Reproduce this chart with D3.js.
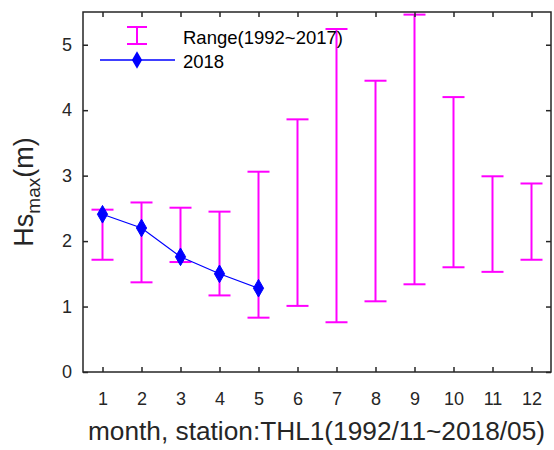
<!DOCTYPE html>
<html><head><meta charset="utf-8">
<script src="https://cdn.jsdelivr.net/npm/d3@7"></script>
<style>body{margin:0;background:#fff;} text{font-family:"Liberation Sans",Arial,sans-serif;}</style>
</head><body>
<svg id="c" width="554" height="450"></svg>
<script>
const months = [1,2,3,4,5,6,7,8,9,10,11,12];
const rangeMax = [2.48,2.59,2.51,2.45,3.06,3.86,5.24,4.45,5.46,4.20,2.99,2.88];
const rangeMin = [1.715,1.37,1.68,1.17,0.83,1.01,0.76,1.08,1.34,1.60,1.53,1.715];
const months2018 = [1,2,3,4,5];
const values2018 = [2.41,2.20,1.76,1.50,1.28];
const yTicks = [0,1,2,3,4,5];
const legendLabels = ["Range(1992~2017)","2018"];

const svg = d3.select("#c");
const L=83,R=551,T=12,B=372;
const x = d3.scaleLinear().domain([0.5,12.5]).range([L,R]);
const y = d3.scaleLinear().domain([0,5.5]).range([B,T]);
const axisCol="#262626";
const mag="#ff00ff", blue="#0000ff";

const cap=11;
const g=svg.append("g");
months.forEach((m,i)=>{
  g.append("line").attr("x1",x(m)).attr("x2",x(m)).attr("y1",y(rangeMin[i])).attr("y2",y(rangeMax[i])).attr("stroke",mag).attr("stroke-width",2);
  [rangeMin[i],rangeMax[i]].forEach(v=>g.append("line").attr("x1",x(m)-cap).attr("x2",x(m)+cap).attr("y1",y(v)).attr("y2",y(v)).attr("stroke",mag).attr("stroke-width",2));
});
const line=d3.line().x((d,i)=>x(months2018[i])).y(d=>y(d));
svg.append("path").datum(values2018).attr("d",line).attr("fill","none").attr("stroke",blue).attr("stroke-width",1.2);
const diamond=d3.symbol().type(d3.symbolDiamond).size(90);
values2018.forEach((v,i)=>svg.append("path").attr("d",diamond).attr("transform",`translate(${x(months2018[i])},${y(v)})`).attr("fill",blue).attr("stroke",blue));
const tl=5;
svg.append("rect").attr("x",L).attr("y",T).attr("width",R-L).attr("height",B-T).attr("fill","none").attr("stroke",axisCol).attr("stroke-width",1.5);
const xa=svg.append("g").attr("transform",`translate(0,${B})`).call(d3.axisBottom(x).tickValues(months).tickSize(-tl).tickPadding(20).tickFormat(d3.format("d")));
const xt=svg.append("g").attr("transform",`translate(0,${T})`).call(d3.axisTop(x).tickValues(months).tickSize(-tl).tickFormat(""));
const ya=svg.append("g").attr("transform",`translate(${L},0)`).call(d3.axisLeft(y).tickValues(yTicks).tickSize(-tl).tickPadding(11).tickFormat(d3.format("d")));
const yr=svg.append("g").attr("transform",`translate(${R},0)`).call(d3.axisRight(y).tickValues(yTicks).tickSize(-tl).tickFormat(""));
[xa,xt,ya,yr].forEach(a=>{a.select(".domain").remove();a.selectAll("line").attr("stroke",axisCol).attr("stroke-width",1.5);a.selectAll("text").attr("fill",axisCol).style("font-size","18px").style("font-family","Liberation Sans, Arial, sans-serif");});
svg.append("text").attr("x",316.5).attr("y",440).attr("text-anchor","middle").attr("fill",axisCol).style("font-size","25px")
  .attr("textLength",457).attr("lengthAdjust","spacingAndGlyphs").text("month, station:THL1(1992/11~2018/05)");
const yl=svg.append("text").attr("transform","translate(33,192) rotate(-90)").attr("text-anchor","middle").attr("fill",axisCol).style("font-size","27px");
yl.append("tspan").text("Hs");
yl.append("tspan").attr("dy",7).style("font-size","19px").text("max");
yl.append("tspan").attr("dy",-7).text("(m)");
const lx=137;
svg.append("line").attr("x1",lx).attr("x2",lx).attr("y1",27).attr("y2",44).attr("stroke",mag).attr("stroke-width",2);
[27,44].forEach(v=>svg.append("line").attr("x1",lx-10).attr("x2",lx+10).attr("y1",v).attr("y2",v).attr("stroke",mag).attr("stroke-width",2));
svg.append("line").attr("x1",100).attr("x2",175).attr("y1",60).attr("y2",60).attr("stroke",blue).attr("stroke-width",1.5);
svg.append("path").attr("d",diamond).attr("transform",`translate(${lx},60)`).attr("fill",blue);
svg.append("text").attr("x",183).attr("y",44).attr("fill","#000").style("font-size","18.5px").text(legendLabels[0]);
svg.append("text").attr("x",183).attr("y",68).attr("fill","#000").style("font-size","18.5px").text(legendLabels[1]);
</script>
</body></html>
